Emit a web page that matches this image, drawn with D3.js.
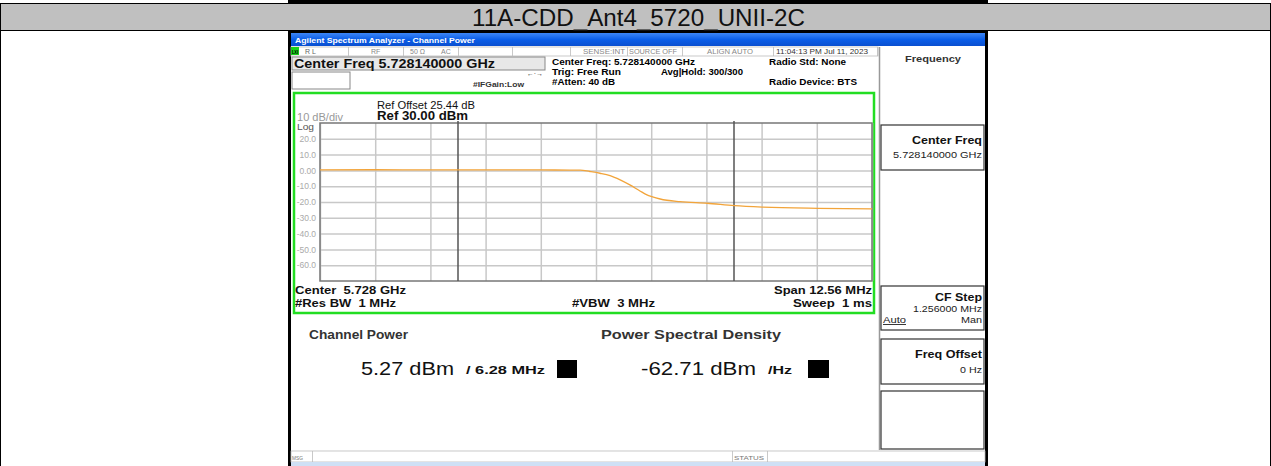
<!DOCTYPE html>
<html>
<head>
<meta charset="utf-8">
<script src="https://cdn.jsdelivr.net/npm/d3@7"></script>
<style>
  html, body { margin: 0; padding: 0; background: #fff; }
  svg { display: block; font-family: "Liberation Sans", Arial, sans-serif; }
  svg text { white-space: pre; }
</style>
</head>
<body>
<div id="chart"></div>
<script>
// trace: offset from center (MHz) and level (dBm)
const freqOffsetMHz = [-6.28, -5.03, -3.78, -2.53, -1.28, -0.60, -0.36, -0.14, 0.09, 0.32, 0.55, 0.77, 1.00, 1.16, 1.27, 1.46, 1.91, 2.53, 3.15, 3.80, 5.05, 6.28];
const traceDbm = [0.3, 0.4, 0.3, 0.3, 0.3, 0.2, 0.2, -0.7, -1.8, -3.3, -6.0, -9.2, -13.0, -15.5, -16.6, -18.1, -19.8, -20.8, -22.3, -23.2, -24.0, -24.4];

const yTicks = [20, 10, 0, -10, -20, -30, -40, -50, -60];
const yTickLabels = ['20.0', '10.0', '0.00', '-10.0', '-20.0', '-30.0', '-40.0', '-50.0', '-60.0'];
const xGrid = [-6.28, -5.024, -3.768, -2.512, -1.256, 0, 1.256, 2.512, 3.768, 5.024, 6.28];
const channelEdges = [-3.14, 3.14];

const title = '11A-CDD_Ant4_5720_UNII-2C';

const W = 1271, H = 466;
const svg = d3.select('#chart').append('svg')
    .attr('width', W)
    .attr('height', H);

// helper for text, optional fixed width
function txt(x, y, s, o) {
    o = o || {};
    const t = svg.append('text')
        .attr('x', o.end ? x - o.w : x)
        .attr('y', y)
        .attr('font-size', o.size || 9)
        .attr('font-weight', o.bold ? 'bold' : 'normal')
        .attr('fill', o.fill || '#000')
        .attr('xml:space', 'preserve')
        .text(s);
    if (o.w) t.attr('textLength', o.w).attr('lengthAdjust', 'spacingAndGlyphs');
    if (o.underline) t.attr('text-decoration', 'underline');
    return t;
}

// ---------------- table header
svg.append('rect').attr('x', 288).attr('y', 0).attr('width', 700).attr('height', 3).attr('fill', '#000');
svg.append('rect').attr('x', 0).attr('y', 3).attr('width', W).attr('height', 28).attr('fill', '#c0c0c0');
svg.append('line').attr('x1', 0).attr('x2', W).attr('y1', 3.5).attr('y2', 3.5).attr('stroke', '#000');
svg.append('line').attr('x1', 0).attr('x2', W).attr('y1', 30.5).attr('y2', 30.5).attr('stroke', '#000');
svg.append('line').attr('x1', 0.5).attr('x2', 0.5).attr('y1', 3).attr('y2', H).attr('stroke', '#000');
svg.append('line').attr('x1', W - 0.5).attr('x2', W - 0.5).attr('y1', 3).attr('y2', H).attr('stroke', '#000');
txt(472, 26, title, { size: 24, w: 333, fill: '#111' });

// ---------------- analyzer screen frame
svg.append('rect').attr('x', 288).attr('y', 31).attr('width', 700).attr('height', H - 31).attr('fill', '#000');
svg.append('rect').attr('x', 291).attr('y', 33).attr('width', 694).attr('height', H - 33).attr('fill', '#fff');

const grad = svg.append('defs').append('linearGradient')
    .attr('id', 'tb').attr('x1', 0).attr('x2', 0).attr('y1', 0).attr('y2', 1);
grad.append('stop').attr('offset', '0%').attr('stop-color', '#3d86f5');
grad.append('stop').attr('offset', '50%').attr('stop-color', '#0b5ee8');
grad.append('stop').attr('offset', '100%').attr('stop-color', '#0a4fd0');
svg.append('rect').attr('x', 291).attr('y', 33).attr('width', 694).attr('height', 13).attr('fill', 'url(#tb)');
txt(295, 43, 'Agilent Spectrum Analyzer - Channel Power', { size: 7.5, bold: true, w: 180, fill: '#fff' });

// status row
svg.append('rect').attr('x', 291).attr('y', 47).attr('width', 587).attr('height', 9)
    .attr('fill', '#fff').attr('stroke', '#bbb').attr('stroke-width', 0.8);
svg.append('rect').attr('x', 291).attr('y', 47).attr('width', 8).attr('height', 8).attr('fill', '#19d219');
txt(292, 54, 'LXI', { size: 5, bold: true, w: 6, fill: '#000' });
[348, 403, 458, 512, 570, 627, 682, 773, 877].forEach(x => {
    svg.append('line').attr('x1', x + 0.5).attr('x2', x + 0.5).attr('y1', 47).attr('y2', 56)
        .attr('stroke', '#bbb').attr('stroke-width', 0.8);
});
txt(305, 54, 'R L', { size: 7, fill: '#666' });
txt(371, 54, 'RF', { size: 7, fill: '#888' });
txt(410, 54, '50 Ω', { size: 7, fill: '#888' });
txt(441, 54, 'AC', { size: 7, fill: '#888' });
txt(583, 54, 'SENSE:INT', { size: 7, fill: '#888', w: 42 });
txt(629, 54, 'SOURCE OFF', { size: 7, fill: '#888', w: 48 });
txt(707, 54, 'ALIGN AUTO', { size: 7, fill: '#888', w: 46 });
txt(776, 54, '11:04:13 PM Jul 11, 2023', { size: 7.5, fill: '#333', w: 92 });

// center freq box
svg.append('rect').attr('x', 292).attr('y', 57).attr('width', 253).attr('height', 13)
    .attr('fill', '#e8e8e8').attr('stroke', '#888').attr('stroke-width', 1);
txt(294, 68, 'Center Freq 5.728140000 GHz', { size: 12, bold: true, w: 201, fill: '#111' });
svg.append('rect').attr('x', 292).attr('y', 72).attr('width', 58).attr('height', 17)
    .attr('fill', '#fff').attr('stroke', '#888').attr('stroke-width', 1);
txt(473, 87, '#IFGain:Low', { size: 8, bold: true, w: 51, fill: '#333' });
txt(527, 76, '←·→', { size: 7, w: 16, fill: '#333' });

txt(552, 65, 'Center Freq: 5.728140000 GHz', { size: 9, bold: true, w: 143 });
txt(552, 75, 'Trig: Free Run', { size: 9, bold: true, w: 69 });
txt(661, 75, 'Avg|Hold: 300/300', { size: 9, bold: true, w: 82 });
txt(552, 85, '#Atten: 40 dB', { size: 9, bold: true, w: 63 });
txt(769, 65, 'Radio Std: None', { size: 9, bold: true, w: 77 });
txt(769, 85, 'Radio Device: BTS', { size: 9, bold: true, w: 88 });

// ---------------- right soft key panel
svg.append('line').attr('x1', 879.5).attr('x2', 879.5).attr('y1', 47).attr('y2', 450)
    .attr('stroke', '#999').attr('stroke-width', 1.5);
txt(905, 62, 'Frequency', { size: 9.5, bold: true, w: 56, fill: '#333' });

const keys = [[125, 170], [286, 330], [339, 384], [391, 449]];
keys.forEach(k => {
    svg.append('rect').attr('x', 881).attr('y', k[0]).attr('width', 103).attr('height', k[1] - k[0])
        .attr('fill', '#fff').attr('stroke', '#333').attr('stroke-width', 1.2);
});
txt(982, 144, 'Center Freq', { size: 11, bold: true, w: 70, end: true, fill: '#111' });
txt(982, 158, '5.728140000 GHz', { size: 9, w: 89, end: true, fill: '#222' });
txt(982, 301, 'CF Step', { size: 11, bold: true, w: 47, end: true, fill: '#111' });
txt(982, 312, '1.256000 MHz', { size: 9, w: 69, end: true, fill: '#222' });
txt(883, 323, 'Auto', { size: 9, w: 23, underline: true, fill: '#222' });
txt(982, 323, 'Man', { size: 9, w: 21, end: true, fill: '#222' });
txt(982, 358, 'Freq Offset', { size: 11, bold: true, w: 67, end: true, fill: '#111' });
txt(982, 373, '0 Hz', { size: 9, w: 22, end: true, fill: '#222' });

// ---------------- graticule
const plotL = 320, plotR = 872, plotT = 123, plotB = 281;
const x = d3.scaleLinear().domain([-6.28, 6.28]).range([plotL, plotR]);
const y = d3.scaleLinear().domain([-70, 30]).range([plotB, plotT]);

// green frame
svg.append('rect').attr('x', 294).attr('y', 93).attr('width', 580).attr('height', 220)
    .attr('fill', '#fff').attr('stroke', '#22dd22').attr('stroke-width', 2.5);

txt(377, 109, 'Ref Offset 25.44 dB', { size: 10, w: 98, fill: '#111' });
txt(377, 120, 'Ref 30.00 dBm', { size: 12, bold: true, w: 91, fill: '#111' });
txt(297, 121, '10 dB/div', { size: 10, w: 46, fill: '#999' });
txt(297, 130, 'Log', { size: 9.5, w: 17, fill: '#555' });

// horizontal grid + dB labels
svg.append('g')
    .attr('transform', 'translate(' + plotL + ',0)')
    .call(d3.axisLeft(y).tickValues(yTicks).tickSize(-(plotR - plotL)).tickPadding(4)
        .tickFormat((d, i) => yTickLabels[i]))
    .call(g => g.select('.domain').remove())
    .call(g => g.selectAll('line').attr('stroke', '#c8c8c8').attr('stroke-width', 1.5))
    .call(g => g.selectAll('text').attr('fill', '#aaa').attr('font-size', 8.5)
        .attr('font-family', '"Liberation Sans", Arial, sans-serif'));

// vertical grid
svg.append('g')
    .attr('transform', 'translate(0,' + plotB + ')')
    .call(d3.axisBottom(x).tickValues(xGrid).tickSize(-(plotB - plotT)).tickFormat(''))
    .call(g => g.select('.domain').remove())
    .call(g => g.selectAll('line').attr('stroke', '#c8c8c8').attr('stroke-width', 1.5));

// plot border
svg.append('rect').attr('x', plotL).attr('y', plotT).attr('width', plotR - plotL).attr('height', plotB - plotT)
    .attr('fill', 'none').attr('stroke', '#777').attr('stroke-width', 1.5);

// channel integration edges
svg.append('g').selectAll('line')
    .data(channelEdges)
    .enter()
    .append('line')
    .attr('x1', d => x(d)).attr('x2', d => x(d))
    .attr('y1', plotT - 2).attr('y2', plotB)
    .attr('stroke', '#555').attr('stroke-width', 1.5);

// trace
svg.append('path')
    .datum(freqOffsetMHz.map((f, i) => [f, traceDbm[i]]))
    .attr('fill', 'none')
    .attr('stroke', '#f2a43a')
    .attr('stroke-width', 1.3)
    .attr('d', d3.line()
        .x(d => x(d[0]))
        .y(d => y(d[1]))
        .curve(d3.curveMonotoneX));

// bottom annotation
txt(295, 294, 'Center  5.728 GHz', { size: 11, bold: true, w: 111, fill: '#111' });
txt(872, 294, 'Span 12.56 MHz', { size: 11, bold: true, w: 98, end: true, fill: '#111' });
txt(295, 307, '#Res BW  1 MHz', { size: 11, bold: true, w: 101, fill: '#111' });
txt(572, 307, '#VBW  3 MHz', { size: 11, bold: true, w: 83, fill: '#111' });
txt(872, 307, 'Sweep  1 ms', { size: 11, bold: true, w: 79, end: true, fill: '#111' });

// ---------------- measurement results
txt(309, 339, 'Channel Power', { size: 13, bold: true, w: 99, fill: '#333' });
txt(601, 339, 'Power Spectral Density', { size: 13, bold: true, w: 180, fill: '#333' });
txt(361, 375, '5.27 dBm', { size: 19, w: 93, fill: '#111' });
txt(466, 374, '/ 6.28 MHz', { size: 11, bold: true, w: 79, fill: '#111' });
svg.append('rect').attr('x', 557).attr('y', 360).attr('width', 20).attr('height', 18).attr('fill', '#000');
txt(641, 375, '-62.71 dBm', { size: 19, w: 115, fill: '#111' });
txt(768, 374, '/Hz', { size: 11, bold: true, w: 24, fill: '#111' });
svg.append('rect').attr('x', 808).attr('y', 360).attr('width', 21).attr('height', 18).attr('fill', '#000');

// ---------------- message bar
svg.append('rect').attr('x', 291).attr('y', 451).attr('width', 694).attr('height', 11)
    .attr('fill', '#fff').attr('stroke', '#bbb').attr('stroke-width', 0.8);
[312, 732, 767].forEach(xx => {
    svg.append('line').attr('x1', xx + 0.5).attr('x2', xx + 0.5).attr('y1', 451).attr('y2', 462)
        .attr('stroke', '#bbb').attr('stroke-width', 0.8);
});
txt(292, 460, 'MSG', { size: 6, w: 11, fill: '#777' });
txt(734, 460, 'STATUS', { size: 6, w: 30, fill: '#777' });
svg.append('rect').attr('x', 291).attr('y', 462).attr('width', 694).attr('height', 4).attr('fill', '#cfe0f5');
</script>
</body>
</html>
